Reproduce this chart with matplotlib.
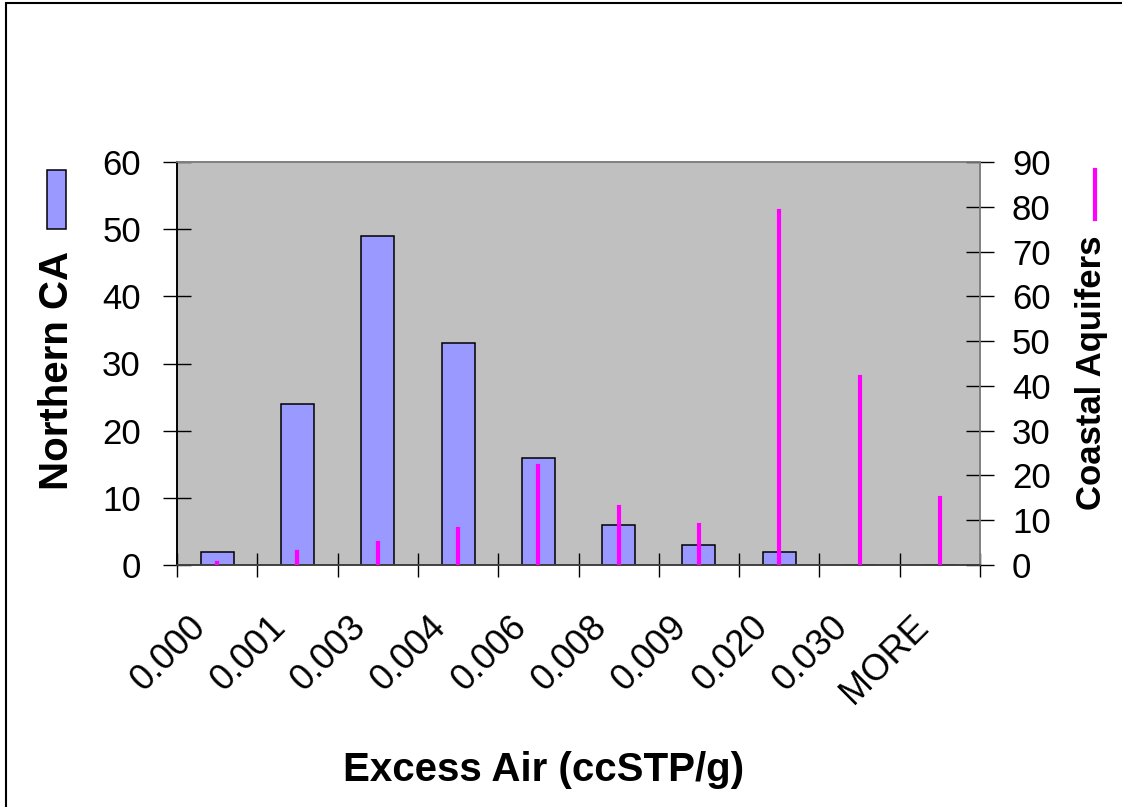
import numpy as np
import matplotlib
matplotlib.use("Agg")
import matplotlib.pyplot as plt
from matplotlib.patches import Rectangle
from matplotlib.lines import Line2D
from matplotlib.transforms import ScaledTranslation

plt.rcParams['font.family'] = ['Liberation Sans', 'DejaVu Sans']

# histogram bins of excess air, counts per bin for each region
bins = ['0.000', '0.001', '0.003', '0.004', '0.006', '0.008', '0.009', '0.020', '0.030', 'MORE']
northern_ca = [2, 24, 49, 33, 16, 6, 3, 2, 0, 0]
coastal_aquifers = [0.5, 3, 5, 8, 22, 13, 9, 79, 42, 15]

bar_color = '#9999FF'
line_color = '#FF00FF'

W, H = 1122, 807
fig = plt.figure(figsize=(W / 100, H / 100), dpi=100)
ax = fig.add_axes([177 / W, 1 - 565 / H, (980 - 177) / W, (565 - 162) / H])
ax.set_facecolor('#C0C0C0')

x = np.arange(len(bins))
ax.bar(x, northern_ca, width=0.41, color=bar_color, edgecolor='black', linewidth=1.1, zorder=2)
ax.set_xlim(-0.5, len(bins) - 0.5)
ax.set_ylim(0, 60)
ax.set_yticks(range(0, 61, 10))

ax2 = ax.twinx()
ax2.vlines(x, 0, coastal_aquifers, colors=line_color, linewidth=3, capstyle='projecting', zorder=3)
ax2.set_ylim(0, 90)
ax2.set_yticks(range(0, 91, 10))

# category labels at bin centres, tick marks on bin edges
ax.set_xticks(x)
ax.set_xticklabels(bins, rotation=45, rotation_mode='anchor', ha='right', va='center')
ax.set_xticks(np.arange(-0.5, len(bins), 1), minor=True)
ax.tick_params(axis='x', which='major', length=0, pad=41, labelsize=26)
ax.tick_params(axis='x', which='minor', direction='inout', length=17, width=1, color='black')
ax.tick_params(axis='y', direction='inout', length=20, width=1, pad=16, labelsize=25)
ax2.tick_params(axis='y', direction='inout', length=20, width=1, pad=13, labelsize=25)
shift = ScaledTranslation(-17 / 100, 0, fig.dpi_scale_trans)
for lab in ax.get_xticklabels():
    lab.set_transform(lab.get_transform() + shift)

for a in (ax, ax2):
    a.spines['top'].set_color('#808080')
    a.spines['right'].set_color('#808080')
    a.spines['left'].set_color('black')
    a.spines['bottom'].set_color('#404040')
    for s in a.spines.values():
        s.set_linewidth(1.2)

# axis titles with their series keys
fig.text(57 / W, 1 - 370 / H, 'Northern CA', rotation=90, fontsize=29, fontweight='bold',
         ha='center', va='center')
fig.patches.append(Rectangle((47 / W, 1 - 229 / H), 19 / W, 59 / H, transform=fig.transFigure,
                             facecolor=bar_color, edgecolor='black', linewidth=1.1))
fig.text(1092 / W, 1 - 373 / H, 'Coastal Aquifers', rotation=90, fontsize=25, fontweight='bold',
         ha='center', va='center')
fig.lines.append(Line2D([1095 / W, 1095 / W], [1 - 170 / H, 1 - 219 / H], transform=fig.transFigure,
                        color=line_color, linewidth=3))
fig.text(544 / W, 1 - 770 / H, 'Excess Air (ccSTP/g)', fontsize=29, fontweight='bold',
         ha='center', va='center')

# chart area border
fig.patches.append(Rectangle((6 / W, -1), 2, 2 - 3 / H, transform=fig.transFigure,
                             fill=False, edgecolor='black', linewidth=1.5))

fig.savefig('out.png', dpi=100)
